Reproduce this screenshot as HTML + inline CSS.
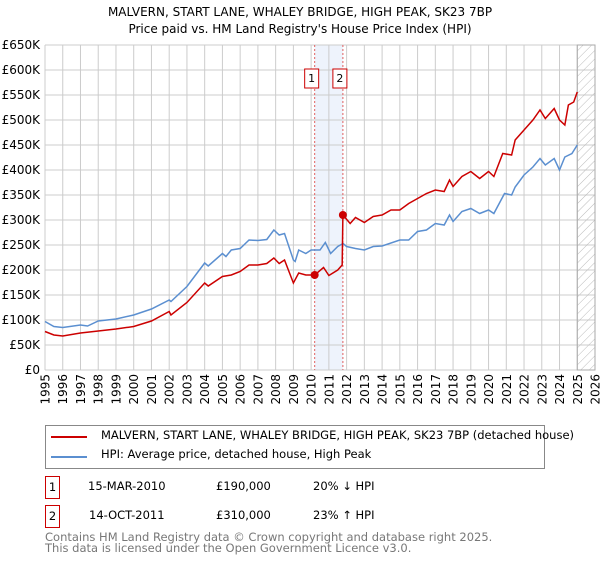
<!DOCTYPE html>
<html><head><meta charset="utf-8"><style>
body{margin:0;background:#fff;font-family:"Liberation Sans","DejaVu Sans",sans-serif;}
svg text{font-family:"DejaVu Sans","Liberation Sans",sans-serif;}
</style></head><body>
<svg id="c" width="600" height="560" xmlns="http://www.w3.org/2000/svg">
<text x="300" y="16" font-size="12" text-anchor="middle">MALVERN, START LANE, WHALEY BRIDGE, HIGH PEAK, SK23 7BP</text>
<text x="300" y="33" font-size="12" text-anchor="middle">Price paid vs. HM Land Registry's House Price Index (HPI)</text>
<g id="grid"></g><g id="marks"></g>
</svg>
<script>
const years=[1995,1996,1997,1998,1999,2000,2001,2002,2003,2004,2005,2006,2007,2008,2009,2010,2011,2012,2013,2014,2015,2016,2017,2018,2019,2020,2021,2022,2023,2024,2025,2026];
const yTicks=[0,50,100,150,200,250,300,350,400,450,500,550,600,650];
const hpiX=[1995,1995.5,1996,1997,1997.4,1998,1999,2000,2001,2002,2002.1,2003,2004,2004.2,2005,2005.2,2005.5,2006,2006.5,2007,2007.5,2007.9,2008.2,2008.5,2009,2009.1,2009.3,2009.7,2010,2010.5,2010.8,2011.1,2011.5,2011.8,2012,2012.5,2013,2013.5,2014,2015,2015.5,2016,2016.5,2017,2017.5,2017.8,2018,2018.5,2019,2019.5,2020,2020.3,2020.9,2021.3,2021.5,2022,2022.5,2022.9,2023.2,2023.7,2024,2024.3,2024.7,2025];
const hpiY=[97,87,85,90,88,98,102,110,122,140,137,167,214,208,233,227,240,243,260,259,261,280,270,273,220,217,240,233,240,240,255,233,247,253,247,243,240,247,248,260,260,277,280,293,290,310,297,317,323,313,320,313,353,350,366,390,406,423,410,423,400,426,433,450];
const ppX=[1995,1995.5,1996,1997,1998,1999,2000,2001,2002,2002.1,2003,2004,2004.2,2005,2005.5,2006,2006.5,2007,2007.5,2007.9,2008.2,2008.5,2009,2009.3,2009.7,2010.2,2010.7,2011,2011.5,2011.75,2011.79,2012.2,2012.5,2013,2013.5,2014,2014.5,2015,2015.5,2016,2016.5,2017,2017.5,2017.8,2018,2018.5,2019,2019.5,2020,2020.3,2020.8,2021.3,2021.5,2022,2022.5,2022.9,2023.2,2023.7,2024,2024.3,2024.5,2024.8,2025];
const ppY=[77,70,68,74,78,82,87,98,117,110,135,174,168,187,190,197,210,210,213,224,213,220,174,194,190,190,205,189,200,210,310,293,305,295,307,310,320,320,333,343,353,360,357,380,367,387,397,383,397,387,433,430,460,480,500,520,503,523,500,490,530,536,556];
const saleX=[2010.2,2011.79];
const saleY=[190,310];
const saleLbl=["1","2"];
const X=y=>45+(y-1995)*550/31;
const Y=v=>370-v*0.5;
const NS="http://www.w3.org/2000/svg";
const g=document.getElementById('grid'),m=document.getElementById('marks');
function el(p,t,a){const e=document.createElementNS(NS,t);for(const k in a)e.setAttribute(k,a[k]);p.appendChild(e);return e;}
let band=el(g,'rect',{x:X(saleX[0]),y:45,width:X(saleX[1])-X(saleX[0]),height:325,fill:'#eef3fc'});


years.forEach(yr=>{
 let l=el(g,'line',{x1:X(yr),x2:X(yr),y1:45,y2:370,stroke:'#cccccc','stroke-width':1});
 
 
 let t=el(g,'text',{x:0,y:0,'font-size':12,'text-anchor':'end',transform:'translate('+(X(yr)+4.5)+',374) rotate(-90)'});t.textContent=yr;
 
 
});
yTicks.forEach(v=>{
 let l=el(g,'line',{x1:45,x2:595,y1:Y(v),y2:Y(v),stroke:'#cccccc','stroke-width':1});
 
 
 let t=el(g,'text',{x:40,y:Y(v)+4,'font-size':12,'text-anchor':'end'});t.textContent=v==0?'£0':'£'+v+'K';
 
 
});
const defs=el(g,'defs',{});
const pat=el(defs,'pattern',{id:'h',width:6,height:6,patternUnits:'userSpaceOnUse',patternTransform:'rotate(45)'});
el(pat,'line',{x1:0,y1:0,x2:0,y2:6,stroke:'#bbbbbb','stroke-width':1});
let fut=el(g,'rect',{x:X(2025),y:45,width:595-X(2025),height:325,fill:'url(#h)',stroke:'#aaa'});


saleX.forEach((sx,i)=>{
 let l=el(m,'line',{x1:X(sx),x2:X(sx),y1:45,y2:370,stroke:'#e06060','stroke-dasharray':'2,2','stroke-width':1});
 
 
 let r=el(m,'rect',{x:X(sx)-10,y:69,width:14,height:19,fill:'#fff',stroke:'#cc0000'});
 
 
 let t=el(m,'text',{x:X(sx)-3,y:82,'font-size':11,'text-anchor':'middle'});t.textContent=saleLbl[i];
 
 
});
function line(xs,ys,c,n){let p=el(m,'polyline',{points:xs.map((x,i)=>X(x)+','+Y(ys[i])).join(' '),fill:'none',stroke:c,'stroke-width':1.5});
 
 }
line(hpiX,hpiY,'#5b8fd0','hpi-line');
line(ppX,ppY,'#cc0000','price-paid-line');
saleX.forEach((sx,i)=>{let c=el(m,'circle',{cx:X(sx),cy:Y(saleY[i]),r:4,fill:'#cc0000'});
 
 });
</script>
<div style="position:absolute;left:45px;top:425px;width:498px;height:42px;border:1px solid #888;font-size:11.5px;font-family:'DejaVu Sans',sans-serif;">
<div style="position:absolute;left:5px;top:10px;width:36px;height:2px;background:#cc0000"></div>
<div style="position:absolute;left:55px;top:2px;white-space:nowrap">MALVERN, START LANE, WHALEY BRIDGE, HIGH PEAK, SK23 7BP (detached house)</div>
<div style="position:absolute;left:5px;top:30px;width:36px;height:2px;background:#5b8fd0"></div>
<div style="position:absolute;left:55px;top:21px;white-space:nowrap">HPI: Average price, detached house, High Peak</div>
</div>
<div style="position:absolute;left:0;top:0;font-size:11.5px;font-family:'DejaVu Sans',sans-serif;">
<div>
<div style="position:absolute;left:45px;top:476px;width:13px;height:21px;border:1px solid #cc0000;text-align:center;line-height:21px">1</div>
<div style="position:absolute;left:88px;top:479px;white-space:nowrap">15-MAR-2010</div>
<div style="position:absolute;left:216px;top:479px;white-space:nowrap">£190,000</div>
<div style="position:absolute;left:313px;top:479px;white-space:nowrap">20% ↓ HPI</div></div>
<div>
<div style="position:absolute;left:45px;top:505px;width:13px;height:21px;border:1px solid #cc0000;text-align:center;line-height:21px">2</div>
<div style="position:absolute;left:89px;top:508px;white-space:nowrap">14-OCT-2011</div>
<div style="position:absolute;left:216px;top:508px;white-space:nowrap">£310,000</div>
<div style="position:absolute;left:313px;top:508px;white-space:nowrap">23% ↑ HPI</div></div>
<div style="position:absolute;left:45px;top:532px;color:#777;white-space:nowrap;line-height:11px">Contains HM Land Registry data © Crown copyright and database right 2025.<br>This data is licensed under the Open Government Licence v3.0.</div>
</div>
</body></html>
